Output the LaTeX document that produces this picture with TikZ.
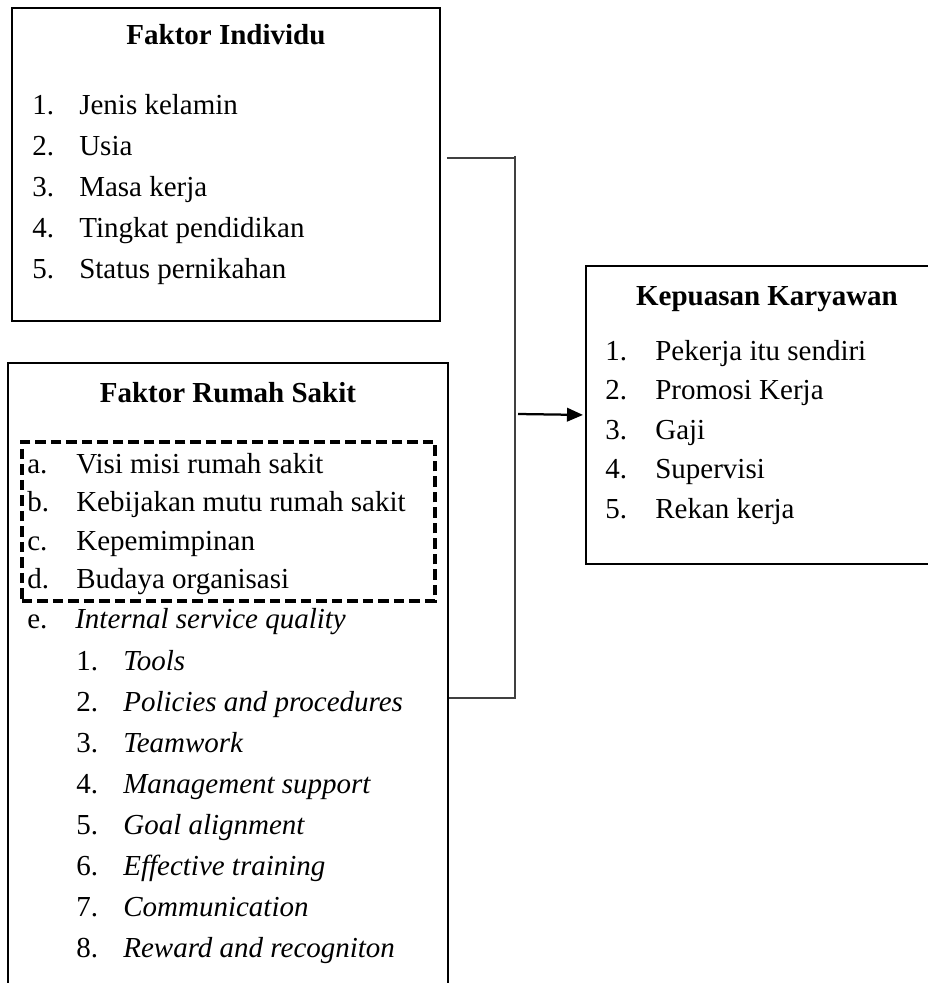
\documentclass[tikz,border=0pt]{standalone}
\usepackage{fontspec}
\setmainfont{Liberation Serif}
\usetikzlibrary{arrows.meta}
\begin{document}
\begin{tikzpicture}[x=0.02cm,y=-0.02cm,
  font=\fontsize{16.5}{20}\selectfont,
  box/.style={draw,line width=0.04cm,anchor=north west,inner sep=0pt},
  grpbox/.style={draw,line width=0.075cm,dash pattern=on 0.21cm off 0.1cm,anchor=north west,inner sep=0pt},
  head/.style={font=\fontsize{16.5}{20}\selectfont\bfseries,anchor=base,inner sep=0pt},
  item/.style={anchor=base west,inner sep=0pt},
  link/.style={draw=black!75,line width=0.03cm},
  >={Triangle[length=0.32cm,width=0.27cm]}]
\clip (0,0) rectangle (928,983);
\node[box,minimum width=8.56cm,minimum height=6.26cm] (indiv) at (11,7) {};
\node[box,minimum width=8.8cm,minimum height=14cm] (rs) at (7,362) {};
\node[box,minimum width=7.24cm,minimum height=5.96cm] (kep) at (585,265) {};
\node[grpbox,minimum width=8.26cm,minimum height=3.18cm] (grp) at (20,440) {};
\node[head] (indivT) at (indiv.north |- 0,45) {Faktor Individu};
\foreach \t [count=\i] in {Jenis kelamin,Usia,Masa kerja,Tingkat pendidikan,Status pernikahan}
  \node[item] (indiv\i) at (32,{74.2+40.8*\i}) {\hbox to 0.94cm{\i.\hfil}\t};
\node[head] (kepT) at (kep.north |- 0,305) {Kepuasan Karyawan};
\foreach \t [count=\i] in {Pekerja itu sendiri,Promosi Kerja,Gaji,Supervisi,Rekan kerja}
  \node[item] (kep\i) at (605,{320.5+39.5*\i}) {\hbox to 1cm{\i.\hfil}\t};
\node[head] (rsT) at (rs.north |- 0,402) {Faktor Rumah Sakit};
\foreach \l/\t [count=\i] in {a/Visi misi rumah sakit,b/Kebijakan mutu rumah sakit,c/Kepemimpinan,d/Budaya organisasi}
  \node[item] (rs\l) at (27,{434.5+38.5*\i}) {\hbox to 0.98cm{\l.\hfil}\t};
\node[item] (rse) at (27,628) {\hbox to 0.96cm{e.\hfil}\textit{Internal service quality}};
\foreach \t [count=\i] in {Tools,Policies and procedures,Teamwork,Management support,Goal alignment,Effective training,Communication,Reward and recogniton}
  \node[item] (isq\i) at (76,{628.9+41.1*\i}) {\hbox to 0.94cm{\i.\hfil}\textit{\t}};
\coordinate (jtop) at (515,156);
\coordinate (jbot) at (515,698);
\coordinate (jmid) at (518,414);
\coordinate (tin) at ([xshift=0.12cm]indiv.east |- 0,158);
\draw[link] (tin) -- (tin -| jtop);
\draw[link] (jtop) -- (jbot);
\draw[link] (rs.east |- jbot) -- ([xshift=0.02cm]jbot);
\draw[->,line width=0.045cm,shorten >=0.04cm] (jmid) -- (kep.west);
\end{tikzpicture}
\end{document}
